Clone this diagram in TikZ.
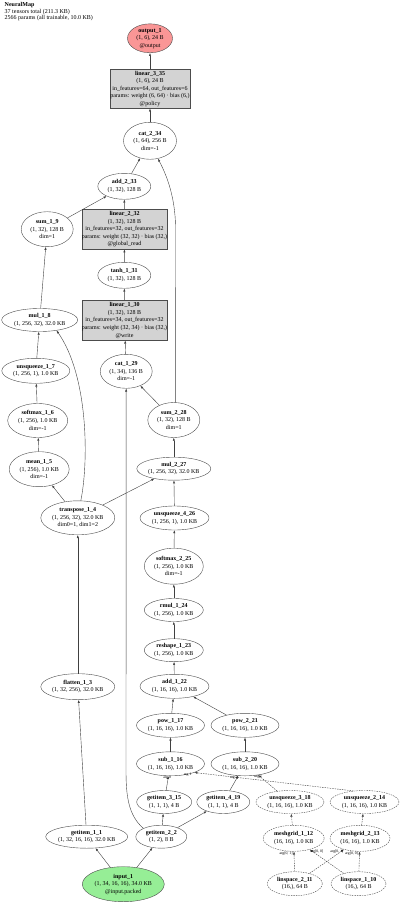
\documentclass[tikz,border=0pt]{standalone}
\usepackage{fontspec}
\setmainfont{Liberation Serif}
\usepackage{xcolor}
\usetikzlibrary{arrows.meta, shapes.geometric}
\definecolor{opgray}{RGB}{211,211,211}
\definecolor{outred}{RGB}{250,150,150}
\definecolor{ingreen}{RGB}{150,238,150}

\begin{document}
\begin{tikzpicture}[
    x=1pt, y=-1pt,
    >={Latex[length=3pt,width=2.2pt]},
    font=\fontsize{6}{7.6}\selectfont,
    op/.style 2 args={ellipse, draw=black!70, line width=0.4pt, minimum width=#1pt, minimum height=#2pt, inner sep=0pt, align=center},
    aux/.style={dash pattern=on 1.5pt off 1pt},
    linbox/.style={rectangle, draw=black!70, fill=opgray, line width=0.4pt, minimum width=82pt, minimum height=40pt, inner sep=0pt, align=center},
    edge/.style={->, draw=black!75, line width=0.4pt},
    argl/.style={font=\fontsize{3.8}{4}\selectfont, inner sep=0.3pt}
]
\path[fill=white] (0,0) rectangle (400,904);

% ---- header ----
\node[anchor=north west, align=left, inner sep=0pt, font=\fontsize{6}{5.4}\selectfont] (title) at (4.5,2.5)
    {\textbf{NeuralMap}\\37 tensors total (211.3 KB)\\2566 params (all trainable, 10.0 KB)};

% ---- head ----
\node[op={45}{27}, fill=outred] (out1) at (150,38.3) {\textbf{output\_1}\\(1, 6), 24 B\\@output};
\node[linbox, minimum width=77pt, minimum height=39pt] (lin335) at (150,88.8)
    {\textbf{linear\_3\_35}\\(1, 6), 24 B\\in\_features=64, out\_features=6\\params: weight (6, 64) · bias (6,)\\@policy};
\node[op={53}{37}] (cat234) at (150,140.8) {\textbf{cat\_2\_34}\\(1, 64), 256 B\\dim=-1};
\node[op={53}{26}] (add233) at (124.3,186.3) {\textbf{add\_2\_33}\\(1, 32), 128 B};
\node[linbox] (lin232) at (124.5,229.2)
    {\textbf{linear\_2\_32}\\(1, 32), 128 B\\in\_features=32, out\_features=32\\params: weight (32, 32) · bias (32,)\\@global\_read};
\node[op={53}{26}] (tanh131) at (124.3,275.3) {\textbf{tanh\_1\_31}\\(1, 32), 128 B};
\node[linbox] (lin130) at (124.5,320.3)
    {\textbf{linear\_1\_30}\\(1, 32), 128 B\\in\_features=34, out\_features=32\\params: weight (32, 34) · bias (32,)\\@write};
\node[op={52}{34}] (cat129) at (126.2,371.3) {\textbf{cat\_1\_29}\\(1, 34), 136 B\\dim=-1};

% ---- read branch (left) ----
\node[op={52}{35}] (sum19) at (47.2,229.2) {\textbf{sum\_1\_9}\\(1, 32), 128 B\\dim=1};
\node[op={76}{23}] (mul18) at (39.7,320) {\textbf{mul\_1\_8}\\(1, 256, 32), 32.0 KB};
\node[op={68}{25}] (unsq17) at (35.8,370.8) {\textbf{unsqueeze\_1\_7}\\(1, 256, 1), 1.0 KB};
\node[op={60}{34}] (smax16) at (37.7,420.5) {\textbf{softmax\_1\_6}\\(1, 256), 1.0 KB\\dim=-1};
\node[op={60}{35}] (mean15) at (39.2,469.2) {\textbf{mean\_1\_5}\\(1, 256), 1.0 KB\\dim=-1};
\node[op={74}{34}] (tr14) at (77.8,517.8) {\textbf{transpose\_1\_4}\\(1, 256, 32), 32.0 KB\\dim0=1, dim1=2};
\node[op={74}{26}] (flat13) at (77.8,686.7) {\textbf{flatten\_1\_3}\\(1, 32, 256), 32.0 KB};

% ---- attention branch (right) ----
\node[op={52}{35}] (sum228) at (173.8,420) {\textbf{sum\_2\_28}\\(1, 32), 128 B\\dim=1};
\node[op={74}{23}] (mul227) at (173.8,468.7) {\textbf{mul\_2\_27}\\(1, 256, 32), 32.0 KB};
\node[op={69}{24}] (unsq426) at (174.5,518) {\textbf{unsqueeze\_4\_26}\\(1, 256, 1), 1.0 KB};
\node[op={59}{36}] (smax225) at (173.8,566.2) {\textbf{softmax\_2\_25}\\(1, 256), 1.0 KB\\dim=-1};
\node[op={59}{23}] (rmul124) at (173.8,610) {\textbf{rmul\_1\_24}\\(1, 256), 1.0 KB};
\node[op={59}{23}] (resh123) at (173.8,650.2) {\textbf{reshape\_1\_23}\\(1, 256), 1.0 KB};
\node[op={69}{24}] (add122) at (174.5,686.3) {\textbf{add\_1\_22}\\(1, 16, 16), 1.0 KB};
\node[op={68}{24}] (pow117) at (170.5,725.3) {\textbf{pow\_1\_17}\\(1, 16, 16), 1.0 KB};
\node[op={68}{24}] (pow221) at (245,725.3) {\textbf{pow\_2\_21}\\(1, 16, 16), 1.0 KB};
\node[op={68}{24}] (sub116) at (170.5,763.8) {\textbf{sub\_1\_16}\\(1, 16, 16), 1.0 KB};
\node[op={68}{24}] (sub220) at (245,763.8) {\textbf{sub\_2\_20}\\(1, 16, 16), 1.0 KB};
\node[op={55}{23}] (gi315) at (164.2,802) {\textbf{getitem\_3\_15}\\(1, 1, 1), 4 B};
\node[op={53}{23}] (gi419) at (223.3,802) {\textbf{getitem\_4\_19}\\(1, 1, 1), 4 B};
\node[op={68}{23}, aux] (unsq318) at (290,802) {\textbf{unsqueeze\_3\_18}\\(1, 16, 16), 1.0 KB};
\node[op={69}{23}, aux] (unsq214) at (364.5,802) {\textbf{unsqueeze\_2\_14}\\(1, 16, 16), 1.0 KB};
\node[op={61}{26}, aux] (mesh112) at (293.7,838.3) {\textbf{meshgrid\_1\_12}\\(16, 16), 1.0 KB};
\node[op={60}{26}, aux] (mesh213) at (360,838.3) {\textbf{meshgrid\_2\_13}\\(16, 16), 1.0 KB};
\node[op={55}{24}, aux] (lins211) at (294.8,883.7) {\textbf{linspace\_2\_11}\\(16,), 64 B};
\node[op={55}{24}, aux] (lins110) at (358.5,883.7) {\textbf{linspace\_1\_10}\\(16,), 64 B};

% ---- input ----
\node[op={82}{23}] (gi11) at (86.7,836.7) {\textbf{getitem\_1\_1}\\(1, 32, 16, 16), 32.0 KB};
\node[op={51}{23}] (gi22) at (161.3,836.7) {\textbf{getitem\_2\_2}\\(1, 2), 8 B};
\node[op={82}{35}, fill=ingreen] (in1) at (123.3,884.2) {\textbf{input\_1}\\(1, 34, 16, 16), 34.0 KB\\@input.packed};

% bends of the long edges
\coordinate (k1) at (126,770);
\coordinate (k2) at (175.5,228);

% ---- edges ----
\draw[edge] (in1) -- (gi11);
\draw[edge] (in1) -- (gi22);
\draw[edge] (gi11) -- (flat13);
\draw[edge] (flat13) -- (tr14);
\draw[edge] (tr14) -- (mean15);
\draw[edge] (tr14) -- (mul227);
\draw[edge] (tr14.80) .. controls (89,460) and (88,375) .. (mul18.-32);
\draw[edge] (mean15) -- (smax16);
\draw[edge] (smax16) -- (unsq17);
\draw[edge] (unsq17) -- (mul18);
\draw[edge] (mul18) -- (sum19);
\draw[edge] (sum19) -- (add233);
\draw[edge] (gi22) -- (gi315);
\draw[edge] (gi22) -- (gi419);
\draw[edge] (gi22.155) .. controls (128,815) and (126,795) .. (k1) -- (cat129);
\draw[edge] (gi315) -- (sub116) node[argl, pos=1, anchor=east, xshift=3pt, yshift=-2pt] {arg 0};
\draw[edge, aux] (unsq214.135) -- (sub116.-20) node[argl, pos=1, anchor=east, xshift=-2.5pt, yshift=-2pt] {arg 1};
\draw[edge] (gi419) -- (sub220) node[argl, pos=1, anchor=east, yshift=-2pt] {arg 0};
\draw[edge, aux] (unsq318) -- (sub220) node[argl, pos=1, yshift=-1.5pt] {arg 1};
\draw[edge, aux] (lins211) -- (mesh112) node[argl, pos=1, anchor=east, xshift=-1pt, yshift=-2pt] {arg[0, 1]};
\draw[edge, aux] (lins110) -- (mesh112) node[argl, pos=1, anchor=west, yshift=-2pt] {arg[0, 0]};
\draw[edge, aux] (lins211) -- (mesh213) node[argl, pos=1, anchor=east, yshift=-2pt] {arg[0, 1]};
\draw[edge, aux] (lins110) -- (mesh213) node[argl, pos=1, anchor=east, xshift=-1pt, yshift=-2pt] {arg[0, 0]};
\draw[edge, aux] (mesh112) -- (unsq318);
\draw[edge, aux] (mesh213) -- (unsq214);
\draw[edge] (sub116) -- (pow117);
\draw[edge] (sub220) -- (pow221);
\draw[edge] (pow117) -- (add122);
\draw[edge] (pow221) -- (add122);
\draw[edge] (add122) -- (resh123);
\draw[edge] (resh123) -- (rmul124);
\draw[edge] (rmul124) -- (smax225);
\draw[edge] (smax225) -- (unsq426);
\draw[edge] (unsq426) -- (mul227);
\draw[edge] (mul227) -- (sum228);
\draw[edge] (sum228) -- (cat129);
\draw[edge] (sum228.85) -- (k2) .. controls (175.5,195) and (165,172) .. (cat234.-66);
\draw[edge] (cat129) -- (lin130);
\draw[edge] (lin130) -- (tanh131);
\draw[edge] (tanh131) -- (lin232);
\draw[edge] (lin232) -- (add233);
\draw[edge] (add233) -- (cat234);
\draw[edge] (cat234) -- (lin335);
\draw[edge] (lin335) -- (out1);

\end{tikzpicture}
\end{document}
